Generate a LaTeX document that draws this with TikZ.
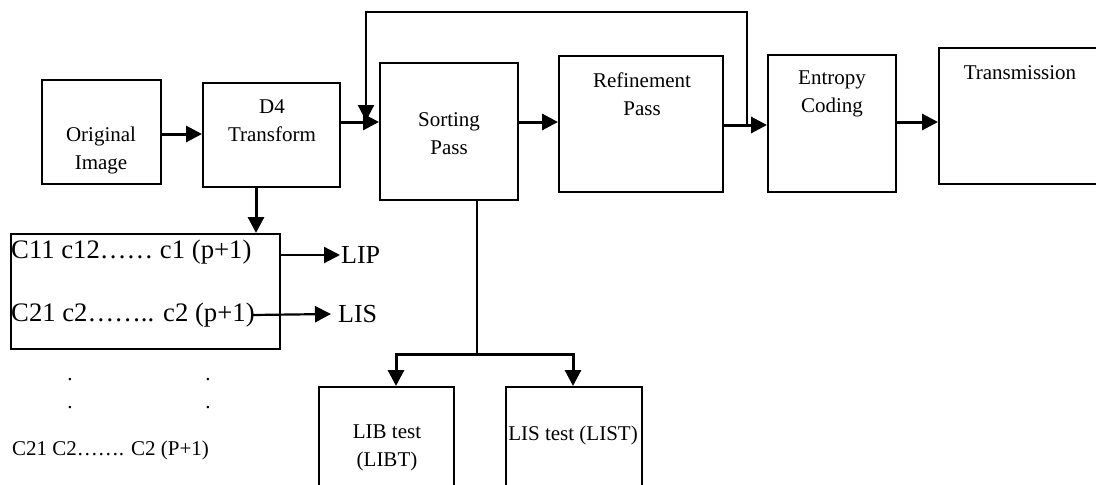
\documentclass[tikz,border=0pt]{standalone}
\usepackage{fontspec}
\setmainfont{Liberation Serif}
\usetikzlibrary{arrows.meta}
\begin{document}
\begin{tikzpicture}[x=1pt,y=-1pt,
  box/.style={draw, line width=2pt, inner sep=0pt},
  txt/.style={font=\fontsize{21}{28}\selectfont, align=center, inner sep=0pt},
  big/.style={font=\fontsize{26}{30}\selectfont, inner sep=0pt, anchor=west},
  arr/.style={line width=3pt, -{Triangle[length=16pt,width=16pt]}},
  arrthin/.style={line width=2.2pt, -{Triangle[length=16pt,width=16pt]}},
  plain/.style={line width=1.8pt}]
\clip (0,0) rectangle (1096,485);
% boxes
\node[box, minimum width=119pt, minimum height=104pt] (orig)  at (101.5,132) {};
\node[box, minimum width=137pt, minimum height=104pt] (d4)    at (271.5,135) {};
\node[box, minimum width=138pt, minimum height=137pt] (sort)  at (449,131.5) {};
\node[box, minimum width=164pt, minimum height=136pt] (ref)   at (641,124) {};
\node[box, minimum width=128pt, minimum height=137pt] (ent)   at (832,123.5) {};
\node[box, minimum width=181pt, minimum height=136pt] (trans) at (1029.5,116) {};
\node[box, minimum width=269pt, minimum height=115pt] (coef)  at (145.5,291.5) {};
\node[box, minimum width=135pt, minimum height=113pt] (libt)  at (386.5,443.5) {};
\node[box, minimum width=136pt, minimum height=113pt] (list)  at (574,443.5) {};
% texts
\node[txt] (torig)  at (101,150) {Original\\Image};
\node[txt] (td4)    at (272,121) {D4\\Transform};
\node[txt] (tsort)  at (449,133.5) {Sorting\\Pass};
\node[txt] (tref)   at (642,94) {Refinement\\Pass};
\node[txt] (tent)   at (832,94) {Entropy\\Coding};
\node[txt] (ttrans) at (1020,73) {Transmission};
\node[txt] (tlibt)  at (387,447.5) {LIB test\\(LIBT)};
\node[txt] (tlist)  at (573,435) {LIS test (LIST)};
\node[big, font=\fontsize{26.7}{30}\selectfont] (c1) at (11,252) {C11 c12…… c1 (p+1)};
\node[big, font=\fontsize{26.7}{30}\selectfont] (c2) at (11,315) {C21 c2…….. c2 (p+1)};
\node[big] (lip) at (341,255) {LIP};
\node[big] (lis) at (338,314) {LIS};
\node[txt] (d1) at (70,380) {.};
\node[txt] (d2) at (70,408) {.};
\node[txt] (d3) at (208,380) {.};
\node[txt] (d4dot) at (208,408) {.};
\node[txt, anchor=west] (c3) at (12,450) {C21 C2……. C2 (P+1)};
% connectors
\draw[arr] (orig.east |- 0,134) -- (d4.west |- 0,134);
\draw[arr] (d4.east |- 0,122) -- (sort.west |- 0,122);
\draw[arr] (sort.east |- 0,122) -- (ref.west |- 0,122);
\draw[arr] (ref.east |- 0,125) -- (ent.west |- 0,125);
\draw[arr] (ent.east |- 0,122) -- (trans.west |- 0,122);
\coordinate (fb) at (747,125);
\coordinate (fbin) at (366,121);
\draw[arrthin] (fb) |- (fbin |- 0,12) -- (fbin);
\draw[arr] (d4.south -| 256,0) -- (coef.north -| 256,0);
\draw[arrthin] (coef.east |- lip) -- ([xshift=-1pt]lip.west);
\draw[arrthin] ([xshift=-2pt]c2.east) -- ([xshift=-7pt]lis.west);
\coordinate (sp) at (477,354);
\draw[plain] (sort.south -| sp) -- (sp);
\draw[arr] (sp) -| (libt.north -| 396,0);
\draw[arr] (sp) -| (list.north -| 573,0);
\end{tikzpicture}
\end{document}
